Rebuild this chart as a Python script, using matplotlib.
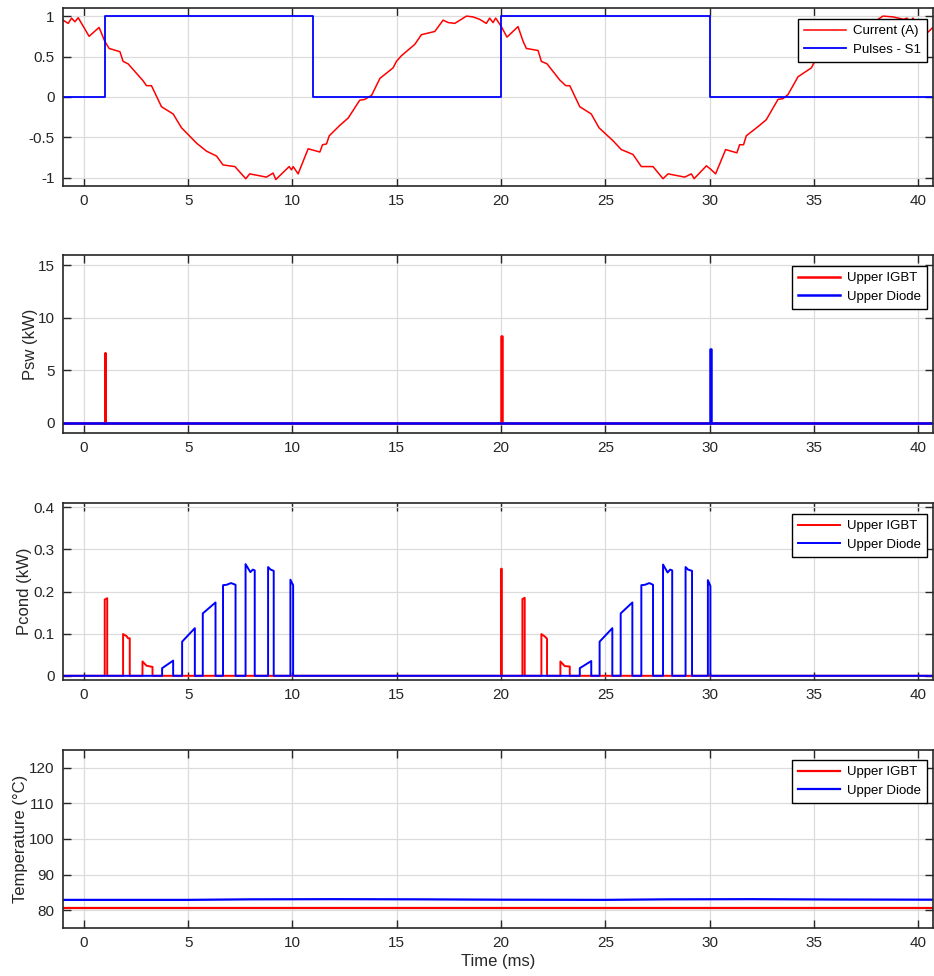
import numpy as np
import matplotlib
matplotlib.use('Agg')
import matplotlib.pyplot as plt

plt.rcParams['font.family'] = ['Liberation Sans', 'DejaVu Sans']

# current (pu)
cur_t = [-1.0, -0.75, -0.59, -0.43, -0.27, 0.25, 0.73, 1.0, 1.21, 1.73, 1.88, 2.12, 2.84, 3.0, 3.24,
         3.72, 4.28, 4.68, 5.40, 5.88, 6.36, 6.67, 7.24, 7.76, 7.95, 8.75, 9.07, 9.20, 9.84, 9.95,
         10.03, 10.27, 10.75, 11.31, 11.44, 11.63, 11.76, 12.27, 12.67, 13.22, 13.46, 13.79, 14.19,
         14.82, 14.98, 15.22, 15.86, 16.18, 16.82, 17.22, 17.46, 17.78, 18.34, 18.65, 18.97, 19.29,
         19.45, 19.61, 19.74, 20.01, 20.28, 20.81, 21.05, 21.21, 21.77, 21.93, 22.20, 22.81, 23.10,
         23.29, 23.77, 24.32, 24.69, 25.36, 25.76, 26.32, 26.72, 27.28, 27.76, 28.0, 28.80, 29.12,
         29.25, 29.84, 30.03, 30.28, 30.76, 31.30, 31.43, 31.62, 31.75, 32.39, 32.71, 33.27, 33.51,
         33.75, 34.23, 34.87, 35.03, 35.22, 35.86, 36.18, 36.82, 37.22, 37.46, 37.78, 38.3, 38.78,
         39.3, 39.45, 39.6, 39.74, 40.0, 40.28, 40.7]
cur_v = [0.95, 0.91, 0.975, 0.93, 0.98, 0.75, 0.86, 0.69, 0.60, 0.56, 0.44, 0.41, 0.20, 0.14, 0.14,
         -0.12, -0.21, -0.38, -0.57, -0.67, -0.73, -0.84, -0.86, -1.01, -0.95, -0.99, -0.94, -1.02, -0.86, -0.90,
         -0.86, -0.95, -0.64, -0.68, -0.59, -0.58, -0.48, -0.35, -0.26, -0.04, -0.03, 0.02, 0.23,
         0.36, 0.44, 0.51, 0.65, 0.77, 0.81, 0.95, 0.92, 0.91, 1.0, 0.99, 0.96, 0.91,
         0.975, 0.92, 0.975, 0.87, 0.74, 0.87, 0.69, 0.60, 0.575, 0.44, 0.41, 0.21, 0.14,
         0.14, -0.12, -0.21, -0.38, -0.54, -0.65, -0.71, -0.86, -0.86, -1.01, -0.95, -0.99, -0.95,
         -1.01, -0.85, -0.89, -0.95, -0.65, -0.69, -0.59, -0.59, -0.48, -0.35, -0.28, -0.03, -0.02,
         0.03, 0.25, 0.36, 0.44, 0.51, 0.65, 0.77, 0.81, 0.95, 0.92, 0.91, 1.0, 0.99,
         0.96, 0.975, 0.93, 0.975, 0.88, 0.76, 0.86]

# gate pulses S1
pulse_t = [-1, 1, 1, 11, 11, 20, 20, 30, 30, 40.7]
pulse_v = [0, 0, 1, 1, 0, 0, 1, 1, 0, 0]

# switching losses (kW)
psw_igbt_t = [-1, 1.0, 1.0, 1.02, 1.02, 20.0, 20.0, 20.02, 20.02, 40.7]
psw_igbt_v = [0, 0, 6.65, 6.65, 0, 0, 8.24, 8.24, 0, 0]
psw_diode_t = [-1, 30.02, 30.02, 30.05, 30.05, 40.7]
psw_diode_v = [0, 0, 7.03, 7.03, 0, 0]

# conduction losses (kW)
pc_igbt_t = [-1, 1.0, 1.0, 1.12, 1.12, 1.88, 1.88, 2.05, 2.12, 2.20, 2.20, 2.81, 2.81, 3.0, 3.29, 3.29,
             20.0, 20.0, 20.03, 20.03, 21.02, 21.02, 21.13, 21.13, 21.93, 21.93, 22.1, 22.20, 22.20,
             22.84, 22.84, 23.05, 23.29, 23.29, 40.7]
pc_igbt_v = [0, 0, 0.181, 0.184, 0, 0, 0.099, 0.094, 0.089, 0.089, 0, 0, 0.034, 0.024, 0.021, 0,
             0, 0.254, 0.254, 0, 0, 0.182, 0.185, 0, 0, 0.099, 0.093, 0.088, 0,
             0, 0.034, 0.023, 0.022, 0, 0]
pc_diode_t = [-1, 3.75, 3.75, 4.28, 4.28, 4.71, 4.71, 5.32, 5.32, 5.70, 5.70, 6.31, 6.31,
              6.67, 6.67, 6.85, 7.05, 7.27, 7.27, 7.75, 7.75, 7.98, 8.1, 8.19, 8.19,
              8.83, 8.83, 8.95, 9.10, 9.10, 9.90, 9.90, 10.03, 10.03,
              23.77, 23.77, 24.32, 24.32, 24.72, 24.72, 25.33, 25.33, 25.73, 25.73, 26.29, 26.29,
              26.72, 26.72, 26.9, 27.1, 27.28, 27.28, 27.76, 27.76, 27.98, 28.1, 28.2, 28.2,
              28.84, 28.84, 28.96, 29.15, 29.15, 29.91, 29.91, 30.03, 30.03, 40.7]
pc_diode_v = [0, 0, 0.018, 0.036, 0, 0, 0.081, 0.113, 0, 0, 0.148, 0.174, 0,
              0, 0.215, 0.216, 0.220, 0.216, 0, 0, 0.265, 0.246, 0.252, 0.250, 0,
              0, 0.258, 0.252, 0.249, 0, 0, 0.228, 0.215, 0,
              0, 0.018, 0.035, 0, 0, 0.081, 0.113, 0, 0, 0.148, 0.174, 0,
              0, 0.215, 0.216, 0.220, 0.216, 0, 0, 0.264, 0.245, 0.252, 0.250, 0,
              0, 0.258, 0.252, 0.249, 0, 0, 0.227, 0.213, 0, 0]

# junction temperatures (degC)
temp_t = [-1, 5, 8, 12, 16, 20, 25, 28, 32, 36, 40.7]
temp_igbt = [80.6, 80.6, 80.6, 80.6, 80.6, 80.6, 80.6, 80.6, 80.6, 80.6, 80.6]
temp_diode = [82.9, 82.9, 83.05, 83.1, 83.05, 82.95, 82.9, 83.05, 83.1, 83.0, 82.95]

fig = plt.figure(figsize=(9.34, 9.76), dpi=100)
W, H = 934, 976
boxes = [(8, 186), (255, 433), (503, 680), (750, 928)]
axes = []
for top, bot in boxes:
    ax = fig.add_axes([63 / W, 1 - bot / H, (933 - 63) / W, (bot - top) / H])
    axes.append(ax)

ax1, ax2, ax3, ax4 = axes

ax1.plot(cur_t, cur_v, color='red', lw=1.1, label='Current (A)')
ax1.plot(pulse_t, pulse_v, color='blue', lw=1.3, label='Pulses - S1')
ax1.set_ylim(-1.1, 1.1)
ax1.set_yticks([-1, -0.5, 0, 0.5, 1])
ax1.set_yticklabels(['-1', '-0.5', '0', '0.5', '1'])

ax2.plot(psw_igbt_t, psw_igbt_v, color='red', lw=1.8, label='Upper IGBT')
ax2.plot(psw_diode_t, psw_diode_v, color='blue', lw=1.8, label='Upper Diode')
ax2.set_ylim(-1, 16)
ax2.set_yticks([0, 5, 10, 15])
ax2.set_ylabel('Psw (kW)', labelpad=0)

ax3.plot(pc_igbt_t, pc_igbt_v, color='red', lw=1.4, label='Upper IGBT')
ax3.plot(pc_diode_t, pc_diode_v, color='blue', lw=1.4, label='Upper Diode')
ax3.set_ylim(-0.01, 0.41)
ax3.set_yticks([0, 0.1, 0.2, 0.3, 0.4])
ax3.set_yticklabels(['0', '0.1', '0.2', '0.3', '0.4'])
ax3.set_ylabel('Pcond (kW)', labelpad=1)

ax4.plot(temp_t, temp_igbt, color='red', lw=1.6, label='Upper IGBT')
ax4.plot(temp_t, temp_diode, color='blue', lw=1.6, label='Upper Diode')
ax4.set_ylim(75, 125)
ax4.set_yticks([80, 90, 100, 110, 120])
ax4.set_ylabel('Temperature (\u00b0C)', labelpad=1)
ax4.set_xlabel('Time (ms)', labelpad=3)

legend_y = [0.938, 0.938, 0.938, 0.944]
for ax, ly in zip(axes, legend_y):
    ax.set_xlim(-1, 40.7)
    ax.set_xticks(np.arange(0, 41, 5))
    ax.grid(True, color='#dcdcdc', lw=0.9)
    ax.set_axisbelow(True)
    ax.tick_params(direction='in', top=True, right=True, length=6, width=1,
                   colors='#262626', labelsize=11, pad=6)
    for sp in ax.spines.values():
        sp.set_color('#262626')
        sp.set_linewidth(1.2)
    ax.yaxis.label.set_size(12)
    ax.yaxis.label.set_color('#262626')
    ax.xaxis.label.set_size(12)
    ax.xaxis.label.set_color('#262626')
    leg = ax.legend(loc='upper right', bbox_to_anchor=(0.993, ly), borderaxespad=0,
                    fontsize=9.5, fancybox=False, framealpha=1, edgecolor='black',
                    handlelength=3.2, handletextpad=0.5, borderpad=0.45, labelspacing=0.5)
    leg.get_frame().set_linewidth(1)

fig.savefig('out.png', dpi=100)
